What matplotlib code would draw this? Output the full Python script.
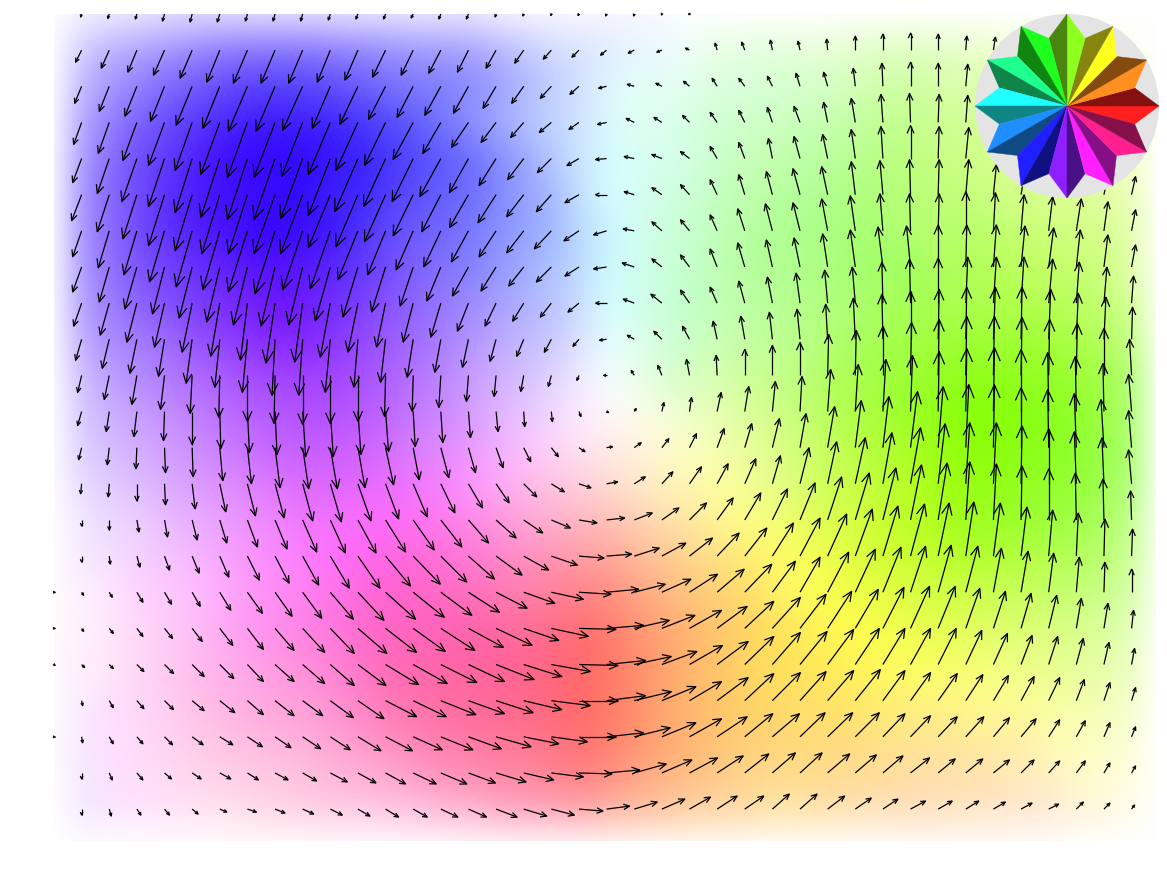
#!/usr/bin/env python3

import matplotlib
matplotlib.use('Agg')
import matplotlib.pyplot as plt
import numpy as np
from matplotlib.collections import LineCollection
from matplotlib.colors import hsv_to_rgb
from matplotlib.patches import Circle, Rectangle

# flow vectors per grid row, in pixels, dy pointing up
DX = [
    [-1,-1.5,-1.5,-2,-2,-2.5,-2,-2,-2,-2,-2,-2,-2,-2,-2,-1,-1,-.5,-1,-1,-.5,-.5,-1,0,0,0,0,0,0,0,0,0,0,0,0,0,0,0,0],
    [-6,-8,-9,-11,-12,-13,-14,-14,-14,-13,-13,-13,-12,-12,-11,-10,-9,-8,-7,-6,-6,-5,-4,-2,-3,-2,-2,-1,0,0,0,0,1,2,2,2,2,1,1],
    [-7,-10,-12,-14,-16,-17,-19,-19,-20,-18,-18,-17,-16,-16,-15,-13,-12,-11,-9,-8,-7,-6,-6,-5,-6,-5,-4,-4,-2,-1,0,0,2,3,3,3,3,3,2],
    [-8,-11,-14,-16,-17,-19,-20,-21,-21,-22,-22,-21,-20,-18,-17,-15,-13,-12,-10,-9,-8,-8,-7,-7,-6,-5,-6,-4,-4,-2,-1,1,2,3,4,4,4,4,3],
    [-9,-12,-15,-16,-17,-19,-20,-21,-22,-22,-23,-22,-21,-21,-19,-17,-16,-14,-12,-11,-10,-10,-9,-7,-6,-4,-6,-5,-4,-2,0,1,3,4,5,5,5,4,4],
    [-10,-12,-14,-16,-17,-18,-19,-21,-22,-22,-22,-21,-20,-19,-19,-18,-17,-15,-14,-11,-10,-10,-9,-7,-6,-6,-7,-6,-4,-3,-1,1,3,3,5,5,5,5,4],
    [-9,-11,-13,-15,-16,-17,-19,-20,-20,-20,-20,-18,-17,-17,-17,-17,-17,-17,-15,-13,-11,-10,-9,-7,-7,-7,-7,-6,-5,-3,-1,1,0,2,3,4,5,4,4],
    [-9,-10,-12,-12,-13,-13,-14,-14,-14,-15,-15,-14,-13,-14,-16,-15,-15,-15,-14,-13,-12,-10,-9,-7,-7,-6,-6,-5,-5,-5,-4,0,1,3,4,5,4,4,4],
    [-8,-9,-10,-10,-10,-9,-7,-9,-8,-10,-10,-9,-10,-10,-11,-11,-11,-11,-11,-11,-11,-11,-9,-7,-6,-5,-4,-3,-3,-1,-1,0,2,3,3,4,3,3,2],
    [-6,-7,-7,-6,-6,-5,-5,-3,-4,-5,-4,-5,-6,-6,-6,-6,-7,-7,-6,-7,-7,-8,-7,-4,-4,-3,-3,-2,-2,-1,0,1,1,2,1,2,2,2,1],
    [-4,-5,-5,-4,-2,-1,0,-1,0,0,0,-1,-1,-2,-2,-2,-3,-3,-2,-3,-3,-4,-3,-1,0,0,0,1,1,0,1,1,1,1,1,1,1,0,-2],
    [-4,-3,-3,-1,0,1,2,2,3,3,3,3,2,2,2,2,1,1,2,2,2,2,2,4,4,3,2,3,3,3,2,1,1,1,0,-1,-1,-1,-3],
    [-3,-2,-1,1,1,3,4,5,6,7,7,8,6,8,7,7,7,7,6,6,7,7,7,7,7,7,6,7,6,6,7,5,3,1,0,-1,-2,-3,-3],
    [-1,-1,0,1,3,6,8,9,10,11,13,13,14,14,14,13,13,13,12,11,11,11,12,11,11,8,9,9,10,9,10,7,4,3,1,0,-2,-2,-3],
    [0,0,2,3,5,7,10,12,14,15,18,20,21,21,20,20,19,19,18,18,18,17,17,16,16,15,15,14,14,13,11,9,4,3,1,0,-1,-1,-1],
    [0,1,3,5,7,9,12,14,16,19,22,25,27,26,26,26,25,26,25,25,25,24,23,22,22,21,20,19,17,15,14,11,8,7,6,4,2,1,1],
    [2,3,6,7,8,11,15,17,19,23,26,30,31,31,31,31,31,32,32,32,31,29,28,27,27,23,20,21,20,18,15,13,12,8,7,5,3,1,0],
    [2,4,6,8,10,13,16,19,22,24,29,31,32,34,35,36,35,37,37,37,35,33,32,30,29,28,26,24,23,21,19,17,14,12,10,8,5,4,2],
    [3,4,7,9,12,14,16,19,22,24,28,33,34,36,36,38,38,39,39,39,37,35,33,31,29,28,27,26,24,22,20,18,16,14,11,9,7,5,3],
    [1,4,7,9,12,15,16,19,20,23,26,31,33,35,36,37,38,39,39,39,37,34,32,31,29,28,26,26,25,22,20,19,17,15,13,11,8,6,4],
    [1,4,6,8,11,13,15,16,18,20,23,27,29,32,33,35,35,36,37,37,36,34,32,30,28,27,25,25,24,22,20,19,18,16,15,11,9,6,4],
    [0,3,6,7,9,11,11,13,14,17,18,20,23,26,27,30,30,32,33,33,32,30,28,26,24,23,22,22,21,20,19,17,17,16,13,11,9,6,4],
    [0,2,4,5,6,7,9,10,11,12,12,13,14,17,18,21,23,23,24,23,23,23,21,20,19,17,17,17,16,15,15,14,13,12,11,10,7,6,3],
]
DY = [
    [-3,-4.5,-5,-7,-8,-8,-7,-7,-7,-6,-5,-5,-4,-5,-5,-3,-2,-1.5,-1.5,-2,-2,-1,0,0,0,0,0,0,0,0,0,0,0,0,0,0,0,0,0],
    [-12,-18,-22,-25,-28,-32,-33,-33,-33,-32,-30,-27,-25,-23,-22,-18,-13,-9,-7,-5,-3,-2,2,7,8,10,9,11,14,16,17,16,14,13,10,8,7,5,3],
    [-17,-25,-30,-35,-39,-42,-45,-45,-44,-42,-38,-33,-31,-29,-27,-22,-17,-12,-8,-2,2,3,5,8,8,10,13,14,18,23,24,23,22,21,20,18,15,12,9],
    [-22,-31,-38,-43,-48,-52,-55,-55,-54,-52,-48,-43,-37,-31,-25,-20,-15,-10,-7,-2,4,5,7,10,12,15,16,20,24,28,29,28,27,26,25,23,20,16,12],
    [-24,-35,-43,-48,-54,-59,-61,-61,-60,-57,-53,-48,-43,-38,-34,-27,-21,-14,-7,-1,2,4,7,12,16,20,22,24,29,32,33,32,31,30,28,26,24,19,14],
    [-26,-37,-44,-51,-56,-59,-59,-59,-59,-53,-52,-47,-41,-37,-33,-28,-22,-17,-8,0,3,7,10,15,20,23,26,28,33,34,35,35,35,30,30,28,26,24,18],
    [-26,-37,-44,-51,-56,-59,-61,-63,-59,-58,-49,-44,-39,-36,-31,-26,-22,-18,-10,-4,2,9,11,16,22,27,28,32,35,37,37,37,39,38,36,34,32,29,21],
    [-25,-35,-42,-47,-51,-55,-58,-59,-58,-54,-50,-45,-39,-34,-29,-24,-19,-15,-9,-2,4,8,12,18,24,27,29,33,37,40,41,42,42,42,41,39,37,32,22],
    [-23,-32,-39,-44,-49,-53,-57,-60,-59,-54,-49,-44,-39,-34,-28,-23,-18,-14,-9,0,4,9,13,16,22,26,30,33,36,41,44,45,46,46,46,44,41,36,27],
    [-21,-29,-34,-37,-44,-48,-53,-56,-56,-53,-48,-43,-38,-33,-28,-22,-17,-13,-7,-1,4,8,13,18,23,27,30,35,41,45,48,50,52,52,52,50,46,42,32],
    [-17,-24,-29,-34,-38,-42,-46,-48,-49,-48,-46,-41,-36,-32,-26,-21,-16,-11,-5,0,5,10,16,20,26,30,33,41,45,49,53,56,59,59,58,56,52,47,36],
    [-14,-20,-25,-29,-33,-37,-41,-43,-45,-45,-43,-40,-35,-31,-26,-20,-15,-10,-5,-1,3,9,14,19,25,30,35,42,47,52,56,60,63,64,62,59,55,48,37],
    [-12,-17,-21,-25,-29,-33,-36,-40,-41,-41,-40,-37,-32,-30,-25,-20,-14,-9,-4,1,5,9,14,19,24,29,34,41,47,51,56,61,63,63,60,58,54,48,37],
    [-10,-13,-17,-21,-25,-28,-32,-34,-37,-38,-37,-35,-33,-29,-24,-19,-13,-8,-4,2,7,12,17,20,25,28,36,42,46,51,56,60,61,61,58,55,52,46,34],
    [-6,-10,-12,-17,-20,-23,-27,-29,-32,-33,-33,-32,-30,-27,-23,-18,-13,-8,-3,2,7,12,17,22,27,31,37,43,47,52,55,57,58,56,54,51,47,41,29],
    [-6,-8,-11,-14,-17,-21,-24,-27,-29,-32,-32,-30,-28,-26,-23,-19,-14,-9,-2,2,8,13,18,23,28,33,38,42,47,50,52,53,54,53,49,46,43,37,27],
    [-3,-5,-10,-12,-14,-18,-21,-24,-26,-27,-28,-27,-25,-23,-20,-16,-11,-7,-2,3,8,13,18,23,28,31,35,40,43,45,46,47,46,44,41,39,35,30,23],
    [-3,-5,-8,-10,-13,-17,-21,-22,-24,-25,-25,-24,-23,-22,-19,-17,-12,-8,-1,3,8,13,18,22,27,31,34,37,39,41,42,42,40,37,35,33,30,25,18],
    [-3,-4,-7,-9,-12,-14,-17,-17,-19,-21,-21,-20,-19,-18,-17,-15,-12,-7,-1,4,8,13,19,23,28,32,33,35,36,36,36,36,34,31,29,28,26,22,16],
    [-5,-7,-8,-9,-10,-12,-14,-15,-15,-17,-18,-16,-16,-14,-13,-12,-9,-5,0,5,9,14,19,23,27,28,29,30,31,30,28,27,26,25,24,23,21,18,13],
    [-6,-7,-7,-8,-8,-8,-10,-11,-12,-13,-14,-14,-13,-13,-12,-10,-7,-5,0,4,9,14,18,20,23,23,24,24,24,23,21,20,20,19,18,17,16,14,10],
    [-6,-7,-7,-6,-6,-6,-7,-7,-8,-9,-10,-11,-11,-11,-10,-9,-7,-4,-1,3,9,13,15,17,19,20,20,19,18,17,15,14,14,13,13,12,12,10,7],
    [-6,-7,-6,-6,-5,-3,-3,-4,-5,-6,-7,-8,-8,-8,-8,-8,-7,-6,-2,3,7,10,12,13,13,15,15,13,11,10,8,8,8,7,6,5,7,6,4],
]
# tiny marks of the left edge column
EDGE_DX = [0,0,0,0,0,0,0,0,0,0,0,0,0,0,0,0,1,1,1,0,1,0,0]
EDGE_DY = [0,0,0,0,0,0,0,0,0,0,0,0,0,0,0,0,0,0,-1,0,0,0,0]

WHEEL_HUES = [0, 30, 60, 90, 120, 150, 180, 210, 240, 270, 300, 330]

x0, xstep = 54.0, 27.63
y0, ystep = 14.0, 36.14
max_mag = 66.0


def flow_colors(dx, dy):
    hue = np.mod(np.degrees(np.arctan2(dy, dx)), 360) / 360
    sat = np.clip(np.hypot(dx, dy) / max_mag, 0, 1)
    return hsv_to_rgb(np.dstack([hue, sat, np.ones_like(hue)]))


dx = np.column_stack([np.array(EDGE_DX, float), np.array(DX, float)])
dy = np.column_stack([np.array(EDGE_DY, float), np.array(DY, float)])
nrows, ncols = dx.shape
xs = x0 + xstep * np.arange(ncols)
ys = y0 + ystep * np.arange(nrows)

fig = plt.figure(figsize=(11.67, 8.75), dpi=100)
ax = fig.add_axes([0, 0, 1, 1])

# background: one more empty row and column fade out to white
bg = np.ones((nrows + 1, ncols + 1, 3))
bg[:nrows, :ncols] = flow_colors(dx, dy)
im = ax.imshow(bg, interpolation='bicubic', aspect='auto',
               extent=(x0 - xstep / 2, x0 + xstep * (ncols + 0.5),
                       y0 + ystep * (nrows + 0.5), y0 - ystep / 2))
im.set_clip_path(Rectangle((54, 14), 1102, 827, transform=ax.transData))

# open headed arrows, the tail sits on the grid
tx, ty = np.meshgrid(xs, ys)
tipx = tx + dx
tipy = ty - dy
length = np.hypot(dx, dy)
mask = length > 0
angle = np.arctan2(-dy, dx)
barb = 2 + 0.2 * length
segments = []
for x1, y1, x2, y2, a, b in zip(tx[mask], ty[mask], tipx[mask], tipy[mask], angle[mask], barb[mask]):
    spread = np.radians(24)
    left = (x2 - b * np.cos(a - spread), y2 - b * np.sin(a - spread))
    right = (x2 - b * np.cos(a + spread), y2 - b * np.sin(a + spread))
    segments.append([(x1, y1), (x2, y2)])
    segments.append([left, (x2, y2), right])
ax.add_collection(LineCollection(segments, colors='black', linewidths=0.9, zorder=3))

# colour wheel
cx, cy = 1067, 106
outer, inner = 92, 70
ax.add_patch(Circle((cx, cy), outer, facecolor='#e4e4e4', edgecolor='none', zorder=4))
for hue in WHEEL_HUES:
    bright = hsv_to_rgb([hue / 360, 0.88, 1])
    dark = hsv_to_rgb([hue / 360, 0.88, 0.52])
    for side, color in ((-15, bright), (15, dark)):
        pts = [(cx, cy),
               (cx + outer * np.cos(np.radians(hue)), cy - outer * np.sin(np.radians(hue))),
               (cx + inner * np.cos(np.radians(hue + side)), cy - inner * np.sin(np.radians(hue + side)))]
        ax.fill(*zip(*pts), facecolor=color, edgecolor=color, linewidth=0.3, zorder=5)

ax.set_xlim(0, 1167)
ax.set_ylim(875, 0)
ax.axis('off')
fig.savefig('out.png', dpi=100, facecolor='white')
